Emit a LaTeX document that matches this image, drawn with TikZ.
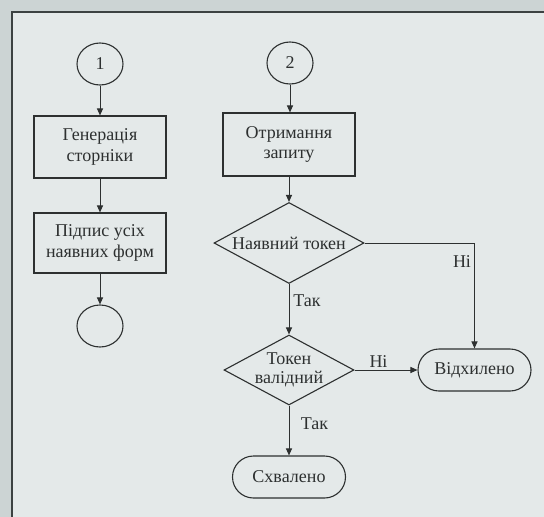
\documentclass[tikz,border=0pt]{standalone}
\usepackage{fontspec}
\setmainfont{Liberation Serif}
\usetikzlibrary{shapes.geometric,arrows.meta}
\definecolor{outerbg}{RGB}{204,212,212}
\definecolor{panelbg}{RGB}{228,233,233}
\definecolor{ink}{RGB}{45,48,48}
\definecolor{frame}{RGB}{60,66,66}
\begin{document}
\begin{tikzpicture}[x=1pt,y=-1pt,
  every node/.style={font=\fontsize{18}{20.5}\selectfont, text=ink},
  conn/.style={draw=ink, line width=1pt},
  flow/.style={conn, -{Triangle[length=7pt,width=6pt]}},
  procbox/.style={draw=ink, line width=1.1pt, rectangle, minimum width=132pt, minimum height=62pt, align=center, inner sep=0pt},
  connector/.style={draw=ink, line width=1.1pt, ellipse, minimum width=46pt, minimum height=42pt, inner sep=0pt},
  decision/.style={draw=ink, line width=1.1pt, diamond, inner sep=0pt},
  terminal/.style={draw=ink, line width=1.1pt, rectangle, rounded corners=21pt, minimum width=113pt, minimum height=42pt, inner sep=0pt},
  lbl/.style={inner sep=0pt}]
  % background and panel
  \fill[outerbg] (0,0) rectangle (544,517);
  \useasboundingbox (0,0) rectangle (544,517);
  \fill[panelbg] (12,12) rectangle (560,530);
  \draw[frame, line width=2pt] (560,12) -- (12,12) -- (12,530);

  % left branch
  \node[connector] (c1) at (100,64) {1};
  \node[procbox] (b1) at (100,147) {Генерація\\сторніки};
  \node[procbox, minimum height=60pt] (b2) at (100,243) {Підпис усіх\\наявних форм};
  \node[connector] (c3) at (100,326) {};

  % right branch
  \node[connector] (c2) at (290,63) {2};
  \node[procbox, minimum height=63pt] (b3) at (289,144.5) {Отримання\\запиту};
  \node[decision, minimum width=150pt, minimum height=81pt,
        label={[lbl]center:Наявний токен}] (d1) at (289,243) {};
  \node[decision, minimum width=130pt, minimum height=70pt,
        label={[lbl, align=center, font=\fontsize{18}{19.5}\selectfont]center:Токен\\валідний}] (d2) at (289,370) {};
  \node[terminal] (rej) at (474.5,370) {Відхилено};
  \node[terminal] (ok) at (289,477) {Схвалено};

  % connectors
  \draw[flow] (c1) -- (b1);
  \draw[flow] (b1) -- (b2);
  \draw[flow] (b2) -- (c3);
  \draw[flow] (c2.south) -- (c2.south |- b3.north);
  \draw[flow] (b3) -- (d1);
  \draw[flow] (d1) -- (d2);
  \draw[flow] (d1.east) -| (rej.north);
  \draw[flow] (d2.east) -- (rej.west);
  \draw[flow] (d2) -- (ok);

  % branch labels
  \node[lbl] (y1) at (307,301) {Так};
  \node[lbl] (n1) at (462,262) {Ні};
  \node[lbl] (n2) at (378.5,362) {Ні};
  \node[lbl] (y2) at (314.5,424) {Так};
\end{tikzpicture}
\end{document}
